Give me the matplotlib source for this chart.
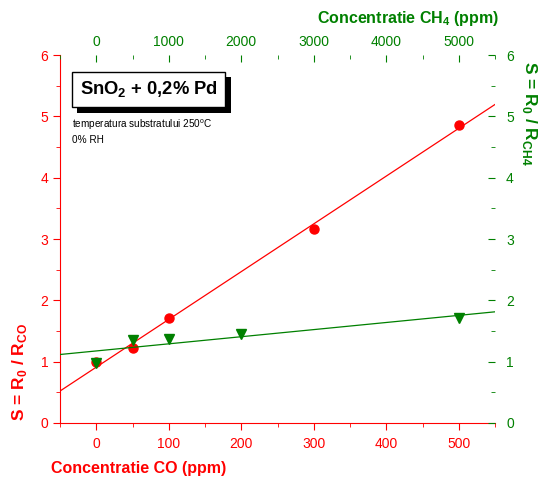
import numpy as np
import matplotlib
matplotlib.use('Agg')
import matplotlib.pyplot as plt
from matplotlib.ticker import MultipleLocator
import matplotlib.patheffects as pe

# CO sensor response (bottom / left axes)
co_ppm = [0, 50, 100, 300, 500]
s_co = [1.0, 1.22, 1.71, 3.16, 4.86]

# CH4 sensor response (top / right axes)
ch4_ppm = [0, 500, 1000, 2000, 5000]
s_ch4 = [0.98, 1.35, 1.37, 1.45, 1.71]

RED = '#ff0000'
GREEN = '#008000'

plt.rcParams['font.family'] = ['Liberation Sans', 'DejaVu Sans']
plt.rcParams['mathtext.fontset'] = 'custom'
plt.rcParams['mathtext.rm'] = 'Liberation Sans'
plt.rcParams['mathtext.bf'] = 'Liberation Sans:bold'

fig = plt.figure(figsize=(5.44, 4.79), dpi=100)
pos = [60/544, 1 - 423/479, 435/544, 368/479]
ax = fig.add_axes(pos)
ax2 = fig.add_axes(pos, frameon=False)

# CO data + linear fit
ax.plot(co_ppm, s_co, 'o', color=RED, ms=6.5, zorder=3)
k, b = np.polyfit(co_ppm, s_co, 1)
xf = np.array([-50, 550])
ax.plot(xf, k*xf + b, color=RED, lw=0.9)
ax.set_xlim(-50, 550)
ax.set_ylim(0, 6)

# CH4 data + linear fit
ax2.plot(ch4_ppm, s_ch4, 'v', color=GREEN, ms=7.5, zorder=3)
k2, b2 = np.polyfit(ch4_ppm, s_ch4, 1)
xf2 = np.array([-500, 5500])
ax2.plot(xf2, k2*xf2 + b2, color=GREEN, lw=0.9)
ax2.set_xlim(-500, 5500)
ax2.set_ylim(0, 6)

# axes styling
for s in ['top', 'right']:
    ax.spines[s].set_visible(False)
ax.spines['left'].set_color(RED)
ax.spines['bottom'].set_color(RED)
ax.xaxis.set_major_locator(MultipleLocator(100))
ax.xaxis.set_minor_locator(MultipleLocator(50))
ax.yaxis.set_major_locator(MultipleLocator(1))
ax.yaxis.set_minor_locator(MultipleLocator(0.5))
ax.tick_params(which='both', direction='out', colors=RED, labelsize=10)
ax.tick_params(which='major', length=5)
ax.tick_params(which='minor', length=3)
ax.tick_params(axis='x', pad=5)

ax2.xaxis.tick_top()
ax2.xaxis.set_label_position('top')
ax2.yaxis.tick_right()
ax2.yaxis.set_label_position('right')
ax2.spines['right'].set_visible(True)
ax2.spines['top'].set_visible(True)
ax2.spines['right'].set_color(GREEN)
ax2.spines['top'].set_color(GREEN)
ax2.xaxis.set_major_locator(MultipleLocator(1000))
ax2.xaxis.set_minor_locator(MultipleLocator(500))
ax2.yaxis.set_major_locator(MultipleLocator(1))
ax2.yaxis.set_minor_locator(MultipleLocator(0.5))
ax2.tick_params(which='both', direction='in', colors=GREEN, labelsize=10)
ax2.tick_params(which='major', length=5)
ax2.tick_params(which='minor', length=3)
ax2.tick_params(axis='x', pad=4)
ax2.tick_params(axis='y', pad=8)

bold = dict(fontweight='bold')
ax.set_xlabel('Concentratie CO (ppm)', color=RED, fontsize=11.5, labelpad=7,
              x=0.18, **bold)
ax.set_ylabel(r'S = R$_\mathbf{0}$ / R$_\mathbf{CO}$', color=RED, fontsize=12.5,
              labelpad=8, y=0.14, **bold)
ax2.set_xlabel(r'Concentratie CH$_\mathbf{4}$ (ppm)', color=GREEN, fontsize=11.5,
               labelpad=9, x=0.80, **bold)
ax2.set_ylabel(r'S = R$_\mathbf{0}$ / R$_\mathbf{CH4}$', color=GREEN, fontsize=12.5,
               rotation=270, labelpad=18, y=0.84, **bold)

t = ax.text(-23, 5.44, r'SnO$_\mathbf{2}$ + 0,2% Pd', fontsize=13.2, va='center',
            ha='left', bbox=dict(boxstyle='square,pad=0.42', fc='white', ec='black', lw=1),
            **bold)
t.get_bbox_patch().set_path_effects([
    pe.SimplePatchShadow(offset=(4, -4), shadow_rgbFace='black', alpha=1), pe.Normal()])
ax.text(-34, 4.98, 'temperatura substratului 250$^{\\rm o}$C\n0% RH', fontsize=7.2,
        va='top', ha='left', linespacing=1.35)

plt.savefig('out.png', dpi=100)
